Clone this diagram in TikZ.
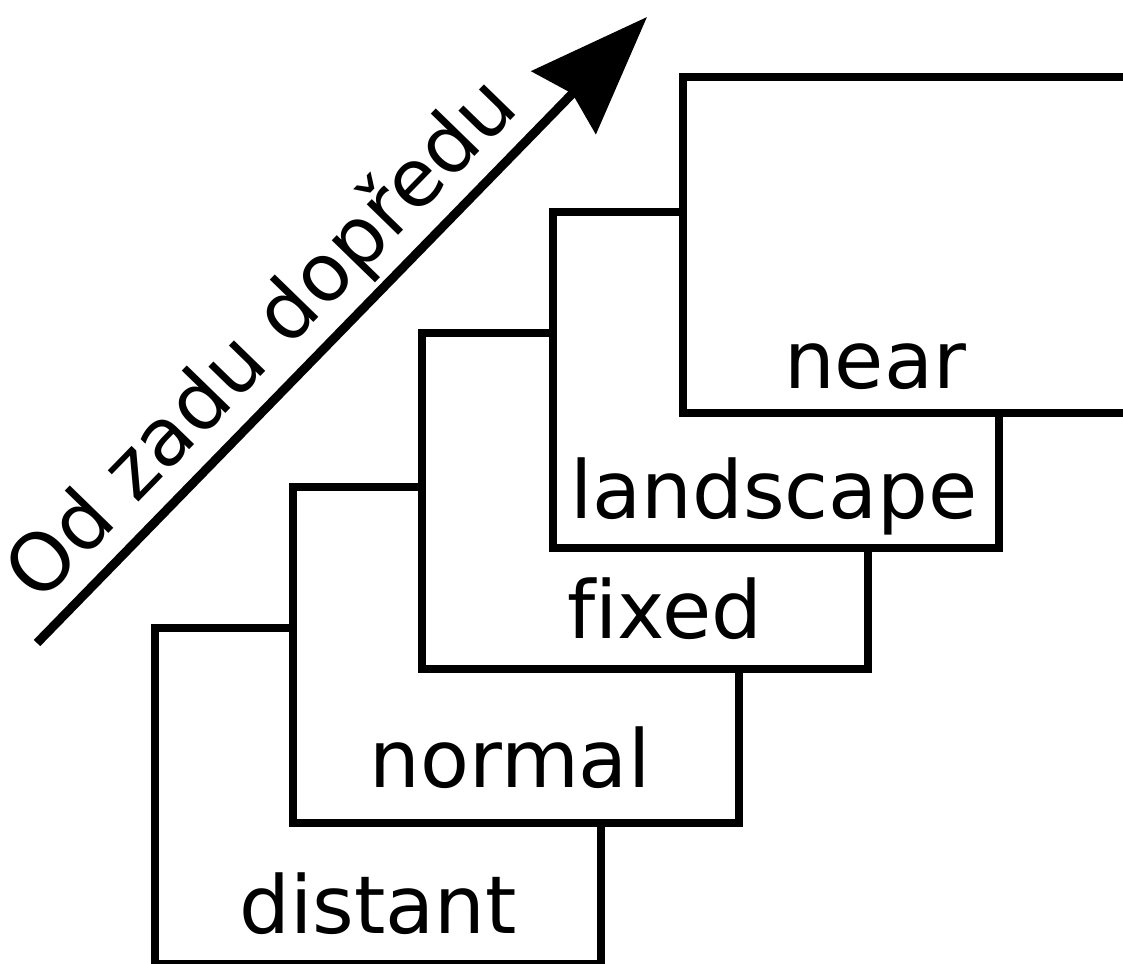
\documentclass[tikz,border=0pt]{standalone}
\usepackage{fontspec}
\setmainfont{DejaVu Sans}[Ligatures=NoCommon]
\usetikzlibrary{arrows.meta}

\tikzset{
  layer/.style={draw, line width=7.5pt, fill=white, anchor=north west,
    inner sep=0pt, outer sep=0pt, minimum width=446pt, minimum height=336pt},
  layerlabel/.style={anchor=base, inner sep=0pt, font=\fontsize{80}{96}\selectfont},
}

\begin{document}
\begin{tikzpicture}[x=1pt, y=-1pt]
    \useasboundingbox (0,0) rectangle (1123,963);
    \clip (0,0) rectangle (1123,963);

    % --- Layers, back to front ---
    % distant
    \node[layer] (distant) at (155,628) {};
    \node[layerlabel] (distant-txt) at (378,933) {distant};

    % normal
    \node[layer] (normal) at (293,487) {};
    \node[layerlabel] (normal-txt) at (510,787) {normal};

    % fixed
    \node[layer] (fixed) at (422,333) {};
    \node[layerlabel] (fixed-txt) at (665,638) {fixed};

    % landscape
    \node[layer] (landscape) at (553,212) {};
    \node[layerlabel] (landscape-txt) at (774,518) {landscape};

    % near
    \node[layer] (near) at (683,77) {};
    \node[layerlabel] (near-txt) at (875,388) {near};

    % --- Direction arrow ---
    \coordinate (back) at (37,643);
    \coordinate (front) at (647,17);
    \draw[line width=9pt, -{Stealth[length=119pt, width=89pt, inset=12pt]}] (back) -- (front);
    \node[layerlabel, rotate=45.8] (direction-txt) at (280,357) {Od zadu dopředu};
\end{tikzpicture}
\end{document}
